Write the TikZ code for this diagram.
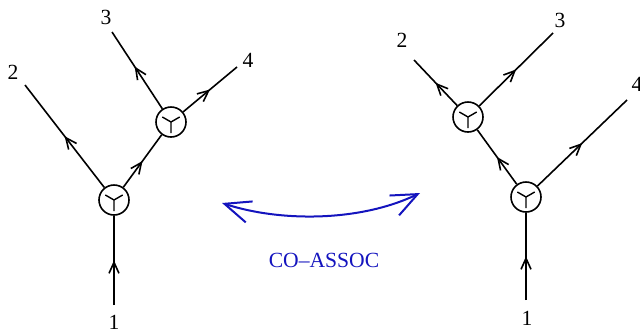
\documentclass[tikz,border=0pt]{standalone}
\usepackage{fontspec}
\setmainfont{Liberation Serif}
\usetikzlibrary{arrows.meta,decorations.markings}
\definecolor{assocblue}{RGB}{20,20,190}
\begin{document}
\begin{tikzpicture}[x=0.5pt,y=-0.5pt,line width=0.8pt,
    every node/.style={font=\fontsize{10.8}{13}\selectfont},
    vtx/.style={circle,draw,inner sep=0pt,minimum size=15pt,
      path picture={\draw[line width=0.7pt] (path picture bounding box.center) -- ++(150:5pt)
        (path picture bounding box.center) -- ++(30:5pt)
        (path picture bounding box.center) -- ++(0,-5.5pt);}},
    flow/.style={postaction={decorate},decoration={markings,
      mark=at position #1 with {\arrow{Straight Barb[length=5.5pt,width=5pt]}}}},
    flow/.default=0.5]
  \useasboundingbox (0,0) rectangle (640,333);
  % left tree
  \node[vtx] (a) at (114,200) {};
  \node[vtx] (b) at (171,122) {};
  \coordinate (la1) at (114,305);
  \coordinate (la2) at (25,85);
  \coordinate (la3) at (112,32);
  \coordinate (la4) at (237,67);
  \draw[flow] (la1) -- (a);
  \draw[flow] (a) -- (la2);
  \draw[flow] (a) -- (b);
  \draw[flow=0.55] (b) -- (la3);
  \draw[flow] (b) -- (la4);
  \node (ta1) at (114,322) {1};
  \node (ta2) at (13,72) {2};
  \node (ta3) at (106,17) {3};
  \node (ta4) at (248,60) {4};
  % right tree
  \node[vtx] (c) at (526,197) {};
  \node[vtx] (d) at (468,117) {};
  \coordinate (lc1) at (526,300);
  \coordinate (lc2) at (414,60);
  \coordinate (lc3) at (553,33);
  \coordinate (lc4) at (627,100);
  \draw[flow] (lc1) -- (c);
  \draw[flow] (c) -- (d);
  \draw[flow] (c) -- (lc4);
  \draw[flow] (d) -- (lc2);
  \draw[flow] (d) -- (lc3);
  \node (tc1) at (527,318) {1};
  \node (tc2) at (402,40) {2};
  \node (tc3) at (560,20) {3};
  \node (tc4) at (637,84) {4};
  % move between them
  \coordinate (ml) at (222,203);
  \coordinate (mr) at (420,193);
  \draw[assocblue,line width=1pt,{Straight Barb[length=13pt,width=11pt]}-{Straight Barb[length=13pt,width=11pt]}]
    (ml) .. controls (280,222) and (360,222) .. (mr);
  \node[assocblue] (co) at (324,260) {CO--ASSOC};
\end{tikzpicture}
\end{document}
